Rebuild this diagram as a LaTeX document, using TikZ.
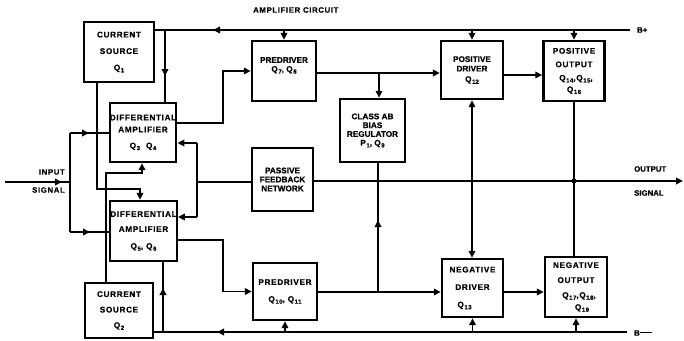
\documentclass[tikz,border=0pt]{standalone}
\usepackage{fontspec}
\setmainfont{Liberation Sans}[BoldFeatures={FakeBold=0.6}]
\newfontfamily\spfont{Liberation Sans}[LetterSpace=8,BoldFeatures={FakeBold=0.6}]
\usetikzlibrary{arrows.meta,decorations.markings}
\newcommand\qs[1]{Q\kern0.6pt\raisebox{-1.8pt}{\fontsize{6}{6}\selectfont #1}}
\begin{document}
\begin{tikzpicture}[x=1pt,y=-1pt,
  box/.style={draw,line width=2.4pt,inner sep=0pt,align=center},
  fa/.style={font=\bfseries\fontsize{8.2}{#1}\selectfont},
  fs/.style={font=\spfont\bfseries\fontsize{8.2}{#1}\selectfont},
  wire/.style={line width=1.8pt},
  tip/.style={-{Triangle[length=7pt,width=6.5pt]}},
  both/.style={{Triangle[length=7pt,width=6.5pt]}-{Triangle[length=7pt,width=6.5pt]}},
  midarrow/.style={postaction={decorate},decoration={markings,mark=at position #1 with {\arrow{Triangle[length=7pt,width=6.5pt]}}}},
  lbl/.style={font=\bfseries\fontsize{7.8}{8}\selectfont,inner sep=0pt},
  slbl/.style={font=\spfont\bfseries\fontsize{7.8}{8}\selectfont,inner sep=0pt}]
\useasboundingbox (0,0) rectangle (684,340);

% boxes
\node[box,fs=16.5,minimum width=70pt,minimum height=60pt] (cs1) at (119,52) {CURRENT\\SOURCE\\\qs{1}};
\node[box,fs=12,minimum width=65pt,minimum height=59pt] (da1) at (143,132.5) {DIFFERENTIAL\\AMPLIFIER\\[4pt]\qs{3}\hspace{6pt}\qs{4}};
\node[box,fs=15,minimum width=63pt,minimum height=60pt] (da2) at (143.5,231) {DIFFERENTIAL\\AMPLIFIER\\[2pt]\qs{5}, \qs{6}};
\node[box,fs=15.5,minimum width=68pt,minimum height=55pt] (cs2) at (119,310.5) {CURRENT\\SOURCE\\\qs{2}};
\node[box,fa=10,minimum width=64pt,minimum height=60pt] (pd1) at (284,71) {PREDRIVER\\[-1pt]\qs{7}, \qs{8}\\[3pt]\mbox{}};
\node[box,fa=8.8,minimum width=65pt,minimum height=63pt] (ab) at (372.5,130.5) {CLASS AB\\BIAS\\REGULATOR\\P\kern0.6pt\raisebox{-1.8pt}{\fontsize{6}{6}\selectfont 1}, \qs{9}};
\node[box,fa=9,minimum width=61pt,minimum height=63pt] (pfn) at (282.5,179.5) {PASSIVE\\FEEDBACK\\NETWORK};
\node[box,fs=17,minimum width=64pt,minimum height=57pt] (pd2) at (285,291.5) {PREDRIVER\\\qs{10}, \qs{11}};
\node[box,fa=9.5,minimum width=62pt,minimum height=58pt] (posd) at (472,70) {POSITIVE\\DRIVER\\[1pt]\qs{12}};
\node[box,fs=13.5,minimum width=61pt,minimum height=60pt] (poso) at (574,71) {POSITIVE\\OUTPUT\\\hspace*{4pt}\qs{14},\qs{15},\\[-2pt]\qs{16}};
\node[box,fs=17.5,minimum width=61pt,minimum height=58pt] (negd) at (472.5,288) {NEGATIVE\\DRIVER\\\qs{13}\hspace*{16pt}};
\node[box,fs=15,minimum width=62pt,minimum height=60pt] (nego) at (576,287) {NEGATIVE\\OUTPUT\\\hspace*{6pt}\qs{17},\qs{18},\\[-3pt]\hspace*{12pt}\qs{19}};

% coordinates
\coordinate (bp) at (630,30);
\coordinate (bm) at (627,332);
\coordinate (j1) at (165,30);
\coordinate (j2) at (163,332);
\coordinate (in) at (5,182);
\coordinate (ij) at (70,182);
\coordinate (it) at (70,133);
\coordinate (ib) at (70,232);
\coordinate (fj) at (197,182);
\coordinate (ft) at (197,143);
\coordinate (fb) at (197,217);
\coordinate (k1) at (97,189);
\coordinate (k2) at (140,189);
\coordinate (m1) at (106,173);
\coordinate (m2) at (142,173);
\coordinate (n1) at (223,123);
\coordinate (n3) at (223,240);
\coordinate (r1) at (379,73);
\coordinate (r2) at (520,75);
\coordinate (r3) at (378,292);
\coordinate (out) at (683,181);
\coordinate (dot) at (574,181);

% B+ rail
\draw[wire,midarrow=417pt] (bp) -- (cs1.east |- bp);
\draw[wire,midarrow=46pt] (j1) -- (da1.north -| j1);
\draw[wire,tip] (pd1.north |- bp) -- (pd1.north);
\draw[wire,tip] (posd.north |- bp) -- (posd.north);
\draw[wire,tip] (poso.north |- bp) -- (poso.north);
% B- rail
\draw[wire,midarrow=410pt] (bm) -- (cs2.east |- bm);
\draw[wire,midarrow=44pt] (j2) -- (da2.south -| j2);
\draw[wire,tip] (pd2.south |- bm) -- (pd2.south);
\draw[wire,tip] (negd.south |- bm) -- (negd.south);
\draw[wire,tip] (nego.south |- bm) -- (nego.south);

% current sources
\draw[wire,tip] (cs1.south -| k1) -- (k1) -- (k2) -- (da2.north -| k2);
\draw[wire,tip] (cs2.north -| m1) -- (m1) -- (m2) -- (da1.south -| m2);

% input
\draw[wire,midarrow=57pt] (in) -- (ij);
\draw[wire] (it) -- (ib);
\draw[wire,midarrow=19pt] (it) -- (da1.west |- it);
\draw[wire,midarrow=20pt] (ib) -- (da2.west |- ib);

% diff amps to predrivers
\draw[wire,tip] (da1.east |- n1) -- (n1) |- (pd1.west);
\draw[wire,tip] (da2.east |- n3) -- (n3) |- (pd2.west);

% feedback
\draw[wire] (pfn.west |- fj) -- (fj);
\draw[wire] (ft) -- (fb);
\draw[wire,tip] (ft) -- (da1.east |- ft);
\draw[wire,tip] (fb) -- (da2.east |- fb);

% upper chain
\draw[wire,tip] (pd1.east |- r1) -- (posd.west |- r1);
\draw[wire,tip] (r1) -- (ab.north -| r1);
\draw[wire,tip] (posd.east |- r2) -- (poso.west |- r2);
% lower chain
\draw[wire,tip] (pd2.east |- r3) -- (negd.west |- r3);
\draw[wire,midarrow=72pt] (r3) -- (ab.south -| r3);
\draw[wire,tip] (negd.east |- r3) -- (nego.west |- r3);

% output
\draw[wire,tip] (pfn.east |- out) -- (out);
\fill (dot) circle (2.6pt);
\draw[wire] (poso.south) -- (poso.south |- nego.north);
\draw[wire,both] (posd.south) -- (posd.south |- negd.north);

% labels
\node[slbl,anchor=west] (title) at (253,10) {AMPLIFIER CIRCUIT};
\node[lbl,anchor=west] (bpl) at (637,30) {B+};
\node[lbl,anchor=west] (bml) at (634,333) {B\rule[2.6pt]{12pt}{1.2pt}};
\node[slbl,anchor=east] (inl1) at (65,172) {INPUT};
\node[slbl,anchor=east] (inl2) at (65,190) {SIGNAL};
\node[lbl,anchor=west] (outl1) at (634,169) {OUTPUT};
\node[lbl,anchor=west] (outl2) at (634,193) {SIGNAL};
\end{tikzpicture}
\end{document}
